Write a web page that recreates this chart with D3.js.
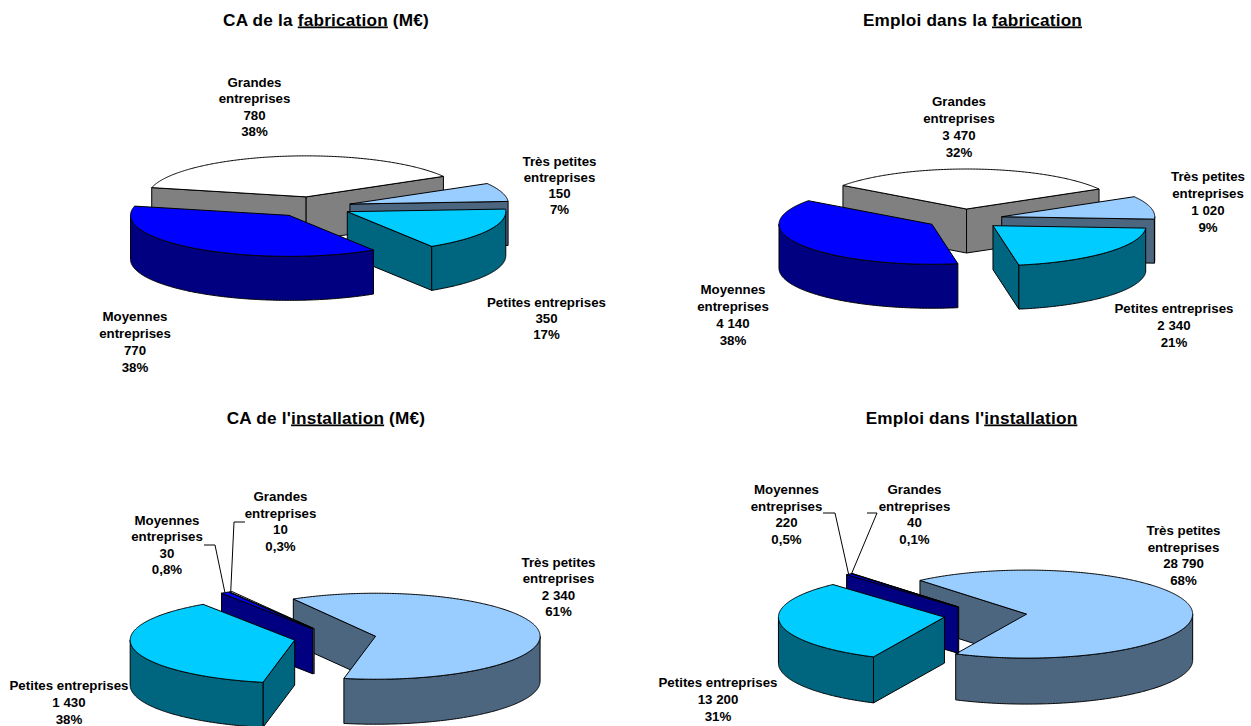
<!DOCTYPE html>
<html><head><meta charset="utf-8">
<script src="https://cdnjs.cloudflare.com/ajax/libs/d3/7.8.5/d3.min.js"></script>
<style>html,body{margin:0;padding:0;background:#fff;overflow:hidden}svg{display:block}
text{font-family:"Liberation Sans",Arial,sans-serif;font-weight:bold;fill:#000;text-anchor:middle}</style>
</head><body><svg id="c" width="1251" height="726"></svg>
<script>
// ---- data ----
const categories = ["Très petites entreprises","Petites entreprises","Moyennes entreprises","Grandes entreprises"];
const caFabrication = [150,350,770,780];
const emploiFabrication = [1020,2340,4140,3470];
const caInstallation = [2340,1430,30,10];
const emploiInstallation = [28790,13200,220,40];
const pctCaFabrication = ["7%","17%","38%","38%"];
const pctEmploiFabrication = ["9%","21%","38%","32%"];
const pctCaInstallation = ["61%","38%","0,8%","0,3%"];
const pctEmploiInstallation = ["68%","31%","0,5%","0,1%"];

// ---- styles ----
const topColors = ["#99CCFF","#00CCFF","#0000FF","#FFFFFF"];
const wallColors = ["#4D6680","#006680","#000080","#808080"];

// ---- layout ----
const charts = [
 {values:caFabrication,pct:pctCaFabrication,title:["CA de la ","fabrication"," (M€)"],tx:326,ty:25.5,
  cx:312,cy:207,rx:158.5,ry:41,depth:44,start:60,order:[3,0,1,2],
  labels:[[559.5,166,16],[546.5,307,16],[135,321,17],[254.5,87,16.4]],lines:[2,1,2,2]},
 {values:emploiFabrication,pct:pctEmploiFabrication,title:["Emploi dans la ","fabrication",""],tx:972.5,ty:25.5,
  cx:964.5,cy:219,rx:153,ry:40,depth:44,start:60,order:[3,0,1,2],
  labels:[[1208,181,17],[1174,313,17],[733,294,17],[959,106,17]],lines:[2,1,2,2]},
 {values:caInstallation,pct:pctCaInstallation,title:["CA de l'","installation"," (M€)"],tx:326,ty:423.5,
  cx:335,cy:638,rx:164.5,ry:43,depth:45,start:330,order:[0,3,2,1],
  labels:[[558.5,567,16.4],[69,690,17],[167,525,16.4],[280.5,501,16.7]],lines:[2,1,2,2],
  leaders:{2:[[204,545],[215,545]],3:[[245,522],[234,522]]}},
 {values:emploiInstallation,pct:pctEmploiInstallation,title:["Emploi dans l'","installation",""],tx:971.5,ty:423.5,
  cx:985.5,cy:615.5,rx:166,ry:44,depth:46,start:320,order:[0,3,2,1],
  labels:[[1183.5,535,16.6],[718,687,17],[786.5,494,16.6],[914.5,494,16.6]],lines:[2,1,2,2],
  leaders:{2:[[823,513],[835,513]],3:[[867,513],[877,513]]}}
];
const EXPLODE = 0.25;
const fmt = d3.formatLocale({decimal:",",thousands:" ",grouping:[3],currency:["",""]}).format(",d");
const svg = d3.select("#c");
const TAU = 2*Math.PI;
const line = d3.line();

charts.forEach(ch=>{
  const g = svg.append("g");
  const sx = d3.scaleLinear().domain([-1,1]).range([-ch.rx,ch.rx]);
  const sy = d3.scaleLinear().domain([-1,1]).range([-ch.ry,ch.ry]);
  const a0 = ch.start*Math.PI/180;
  const arcs = d3.pie().sort(null).startAngle(a0).endAngle(a0+TAU)(ch.values);

  const geom = arcs.map(a=>{
    const m=(a.startAngle+a.endAngle)/2;
    const ox=ch.cx+sx(EXPLODE*Math.sin(m)), oy=ch.cy+sy(-EXPLODE*Math.cos(m));
    const pt=(t,dz=0)=>[ox+sx(Math.sin(t)),oy+sy(-Math.cos(t))+dz];
    const samples=(s,e)=>{const n=Math.max(2,Math.ceil((e-s)/0.01));return d3.range(n+1).map(i=>s+(e-s)*i/n);};
    return {a,m,ox,oy,pt,samples};
  });

  ch.order.forEach(i=>{
    const {a,ox,oy,pt,samples}=geom[i];
    const gs=g.append("g").attr("stroke","#000").attr("stroke-width",1).attr("stroke-linejoin","round");
    const wall=wallColors[i];
    const quad=t=>{gs.append("path").attr("fill",wall)
      .attr("d",line([[ox,oy],pt(t),pt(t,ch.depth),[ox,oy+ch.depth]])+"Z");};
    const ns=((a.startAngle%TAU)+TAU)%TAU, ne=((a.endAngle%TAU)+TAU)%TAU;
    if(ns>Math.PI) quad(a.startAngle);
    if(ne<Math.PI) quad(a.endAngle);
    // visible outer rim
    [-1,0,1,2].forEach(k=>{
      const lo=Math.max(a.startAngle,Math.PI/2+k*TAU), hi=Math.min(a.endAngle,3*Math.PI/2+k*TAU);
      if(hi>lo){
        const ts=samples(lo,hi);
        const pts=ts.map(t=>pt(t)).concat(ts.slice().reverse().map(t=>pt(t,ch.depth)));
        gs.append("path").attr("fill",wall).attr("d",line(pts)+"Z");
      }
    });
    // top surface
    gs.append("path").attr("fill",topColors[i])
      .attr("d",line([[ox,oy]].concat(samples(a.startAngle,a.endAngle).map(t=>pt(t))))+"Z");
  });

  // leader lines
  if(ch.leaders) Object.keys(ch.leaders).forEach(k=>{
    const gm=geom[+k], end=gm.pt(gm.m);
    g.append("path").attr("fill","none").attr("stroke","#000").attr("stroke-width",1)
      .attr("d",line(ch.leaders[k].concat([end])));
  });

  // labels
  ch.labels.forEach((l,i)=>{
    const name=categories[i], rows=[];
    if(ch.lines[i]===2){
      const p=name.lastIndexOf(" ");rows.push(name.slice(0,p),name.slice(p+1));
    } else rows.push(name);
    rows.push(fmt(ch.values[i]),ch.pct[i]);
    const t=g.append("text").attr("font-size",13.3);
    rows.forEach((r,j)=>t.append("tspan").attr("x",l[0]).attr("y",l[1]+j*l[2]).text(r));
  });

  // title
  const t=g.append("text").attr("x",ch.tx).attr("y",ch.ty).attr("font-size",17.2).attr("letter-spacing",0.2);
  t.append("tspan").text(ch.title[0]);
  t.append("tspan").attr("text-decoration","underline").text(ch.title[1]);
  t.append("tspan").text(ch.title[2]);
});
</script></body></html>
